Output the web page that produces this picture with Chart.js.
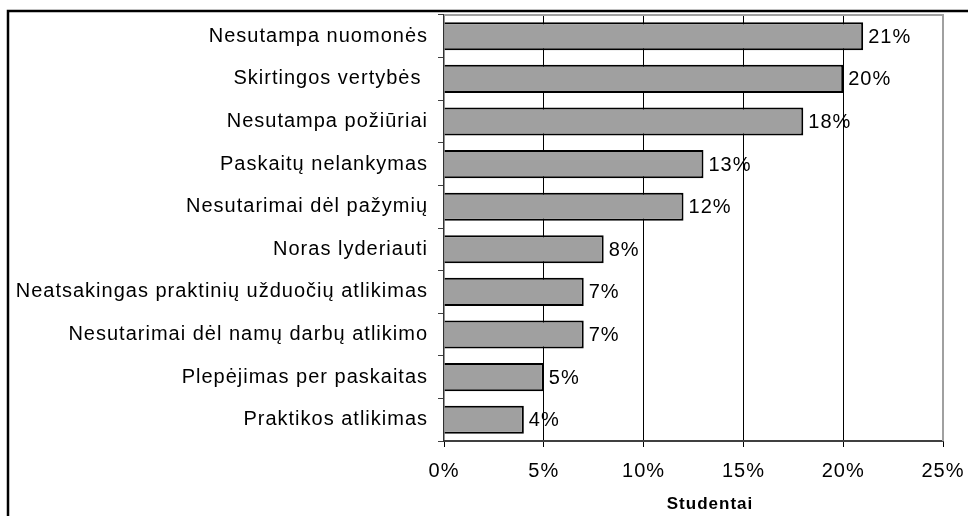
<!DOCTYPE html>
<html>
<head>
<meta charset="utf-8">
<script src="https://cdn.jsdelivr.net/npm/chart.js@4/dist/chart.umd.min.js"></script>
<style>
  html, body { margin: 0; padding: 0; background: #fff; }
  #wrap { width: 968px; height: 516px; position: relative; }
</style>
</head>
<body>
<div id="wrap"><canvas id="conflictChart" width="968" height="516"></canvas></div>
<script>
const categories = [
    "Nesutampa nuomonės",
    "Skirtingos vertybės ",
    "Nesutampa požiūriai",
    "Paskaitų nelankymas",
    "Nesutarimai dėl pažymių",
    "Noras lyderiauti",
    "Neatsakingas praktinių užduočių atlikimas",
    "Nesutarimai dėl namų darbų atlikimo",
    "Plepėjimas per paskaitas",
    "Praktikos atlikimas"
];
const values = [21, 20, 18, 13, 12, 8, 7, 7, 5, 4];
const xTicks = [0, 5, 10, 15, 20, 25];
const axisTitle = "Studentai";

const FONT = "'Liberation Sans', Arial, sans-serif";

// spacing to mimic the slightly wide lettering of the original
const spacingPlugin = {
    id: "spacing",
    beforeLayout(chart) { chart.ctx.letterSpacing = "1px"; },
    beforeDraw(chart) { chart.ctx.letterSpacing = "1px"; }
};

const framePlugin = {
    id: "frame",
    beforeDatasetsDraw(chart) {
        const { ctx, chartArea: a } = chart;
        ctx.save();
        ctx.strokeStyle = "#a0a0a0";
        ctx.lineWidth = 2;
        ctx.beginPath();
        ctx.moveTo(a.left, a.top);
        ctx.lineTo(a.right, a.top);
        ctx.lineTo(a.right, a.bottom);
        ctx.stroke();
        ctx.restore();
    },
    afterDatasetsDraw(chart) {
        const ctx = chart.ctx;
        const meta = chart.getDatasetMeta(0);
        ctx.save();
        ctx.font = "20px " + FONT;
        ctx.fillStyle = "#000";
        ctx.textAlign = "left";
        ctx.textBaseline = "middle";
        meta.data.forEach((bar, i) => {
            ctx.fillText(values[i] + "%", bar.x + 5, bar.y + 1);
        });
        ctx.restore();
    },
    afterDraw(chart) {
        const ctx = chart.ctx;
        ctx.save();
        // outer frame
        ctx.strokeStyle = "#000";
        ctx.lineWidth = 2.5;
        ctx.beginPath();
        ctx.moveTo(8, 516);
        ctx.lineTo(8, 11);
        ctx.lineTo(968, 11);
        ctx.stroke();
        // axis title
        ctx.font = "bold 17px " + FONT;
        ctx.fillStyle = "#000";
        ctx.textAlign = "center";
        ctx.textBaseline = "middle";
        ctx.fillText(axisTitle, 710, 504);
        ctx.restore();
    }
};

const ctx = document.getElementById("conflictChart").getContext("2d");

const conflictChart = new Chart(ctx, {
    type: "bar",
    data: {
        labels: categories,
        datasets: [{
            data: values,
            backgroundColor: "#a0a0a0",
            borderColor: "#000",
            borderWidth: 2,
            borderSkipped: "start",
            categoryPercentage: 1,
            barPercentage: 0.66
        }]
    },
    options: {
        indexAxis: "y",
        responsive: false,
        animation: false,
        layout: { padding: { top: 15, right: 25, left: 0, bottom: 0 } },
        plugins: {
            legend: { display: false },
            tooltip: { enabled: false }
        },
        scales: {
            x: {
                min: 0,
                max: 25,
                afterBuildTicks: (scale) => { scale.ticks = xTicks.map(v => ({ value: v })); },
                afterFit: (scale) => {
                    scale.height = 75;
                    scale.paddingLeft = 0;
                    scale.paddingRight = 0;
                },
                border: { color: "#404040", width: 2 },
                grid: {
                    color: (c) => (c.tick && c.tick.value > 0 && c.tick.value < 25) ? "#000" : "rgba(0,0,0,0)",
                    tickColor: "#000",
                    tickLength: 6,
                    lineWidth: 1
                },
                ticks: {
                    color: "#000",
                    padding: 12,
                    maxRotation: 0,
                    font: { family: FONT, size: 20 },
                    callback: (v) => v + "%"
                }
            },
            y: {
                afterFit: (scale) => {
                    scale.width = 444;
                    scale.paddingTop = 0;
                    scale.paddingBottom = 0;
                },
                border: { color: "#303030", width: 1.5 },
                grid: {
                    drawOnChartArea: false,
                    drawTicks: true,
                    tickLength: 6,
                    tickColor: "#404040",
                    offset: true
                },
                ticks: {
                    color: "#000",
                    padding: 10,
                    autoSkip: false,
                    font: { family: FONT, size: 20 }
                }
            }
        }
    },
    plugins: [spacingPlugin, framePlugin]
});
</script>
</body>
</html>
